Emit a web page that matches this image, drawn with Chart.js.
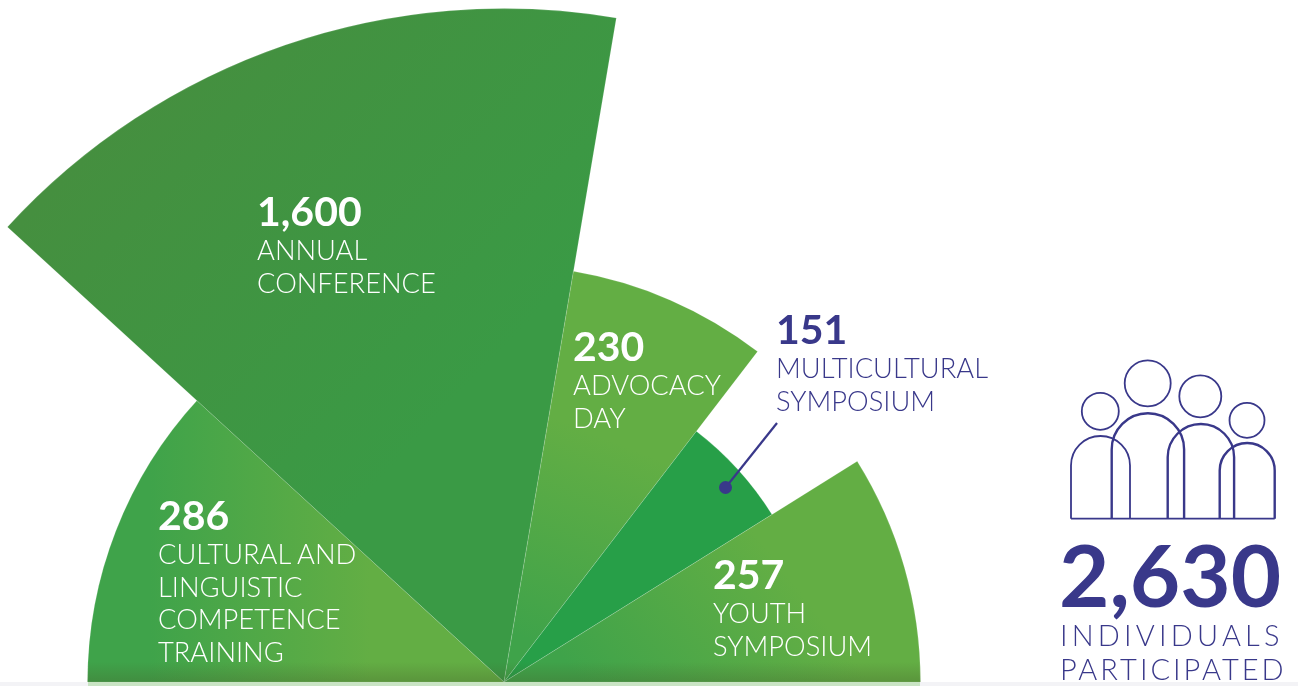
<!DOCTYPE html>
<html><head><meta charset="utf-8">
<script src="https://cdn.jsdelivr.net/npm/chart.js@4/dist/chart.umd.min.js"></script>
<style>
html,body{margin:0;padding:0;background:#fff;overflow:hidden;width:1298px;height:686px}
#wrap{position:relative;width:1298px;height:686px;overflow:hidden;font-family:Lato,sans-serif}
canvas{position:absolute;left:0;top:0}
.lab{position:absolute;white-space:nowrap;color:#fff}
.num{font-weight:700;font-size:41px;line-height:46px}
.txt{font-weight:300;font-size:27.3px;line-height:32.6px}
.navy{color:#39388a}
.big{position:absolute;left:1059px;top:519px;font-weight:700;font-size:87px;line-height:110px;color:#39388a;white-space:nowrap}
.ind{position:absolute;left:1060px;font-weight:300;font-size:29px;line-height:34px;color:#39388a;white-space:nowrap}
svg{position:absolute;left:0;top:0}
</style></head>
<body><div id="wrap"><canvas id="c" width="1298" height="686"></canvas>
<svg width="1298" height="686" fill="none" stroke="#39388a" stroke-width="1.8">
<circle cx="1100.3" cy="411.3" r="18.5"/><circle cx="1147.7" cy="383.3" r="23"/><circle cx="1200.3" cy="396.3" r="21"/><circle cx="1247" cy="420.3" r="17.5"/>
<path d="M1071 518.7V465.5a29.5 29.5 0 0 1 59 0V518.7"/>
<path stroke-width="2.4" d="M1111.7 518.7V449.5a36.2 36.2 0 0 1 72.4 0V518.7"/>
<path stroke-width="2.4" d="M1167.7 518.7V457.2a33.2 33.2 0 0 1 66.4 0V518.7"/>
<path stroke-width="2.4" d="M1219.7 518.7V470.5a27.5 27.5 0 0 1 55 0V518.7"/>
<path d="M1071 518.7H1274.7"/>
</svg>
</div>
<script>
const categories = [["CULTURAL AND","LINGUISTIC","COMPETENCE","TRAINING"],["ANNUAL","CONFERENCE"],["ADVOCACY","DAY"],["MULTICULTURAL","SYMPOSIUM"],["YOUTH","SYMPOSIUM"]];
const values = [286, 1600, 230, 151, 257];
const sweepDegrees = [42.5, 57.1, 27.9, 20.5, 32];
const totalValue = "2,630";
const totalLabel = ["INDIVIDUALS","PARTICIPATED"];
const tierLimits = [200, 1000, Infinity];
const tierRadii = [316, 416.5, 673.5];
const centre = {x:504, y:682};
const labelAnchors = [[158,492],[257,188],[573,323],[776,306],[713,551]];
const fills = [
  [[150,0],[370,0],['#3fa34a','#63ae44']],
  [[60,180],[380,480],['#458f3f','#3a9a45']],
  [[610,440],[530,640],['#63ae44','#3fa34a']],
  [[600,500],[760,500],['#279f48','#279f48']],
  [[760,540],[580,680],['#63ae44','#3fa34a']]
];
class TieredRadial extends Chart.RadialLinearScale {
  static id = 'tieredRadial';
  static defaults = Chart.RadialLinearScale.defaults;
  _pin(){ this.xCenter = centre.x; this.yCenter = centre.y; }
  setDimensions(){ super.setDimensions(); this._pin(); }
  setCenterPoint(a,b,c,d){ super.setCenterPoint(a,b,c,d); this._pin(); }
  getDistanceFromCenterForValue(v){ return tierRadii[tierLimits.findIndex(l => v < l)]; }
}
Chart.register(TieredRadial);
const finish = {
  id:'finish',
  afterDatasetsDraw(chart){
    const g = chart.ctx;
    g.save();
    g.globalCompositeOperation = 'source-atop';
    const sh = g.createLinearGradient(0,662,0,682);
    sh.addColorStop(0,'rgba(70,90,40,0)'); sh.addColorStop(1,'rgba(70,90,40,.3)');
    g.fillStyle = sh; g.fillRect(0,662,1298,20);
    g.globalCompositeOperation = 'source-over';
    g.fillStyle = '#f3f3f6'; g.fillRect(0,682,1298,4);
    g.fillStyle = '#c9e4c4'; g.fillRect(88,682,832,4);
    g.strokeStyle = '#39388a'; g.lineWidth = 2.2;
    g.beginPath(); g.moveTo(726,487); g.lineTo(777,423); g.stroke();
    g.fillStyle = '#39388a';
    g.beginPath(); g.arc(725.5,487.5,6.5,0,Math.PI*2); g.fill();
    g.restore();
  }
};
new Chart(document.getElementById('c'),{
  type:'polarArea',
  data:{labels:categories.map(c=>c.join(' ')),datasets:[{
    data:values,
    angle:ctx=>sweepDegrees[ctx.dataIndex],
    clip:false,
    borderWidth:0.5,
    borderColor:'rgba(255,255,255,.3)',
    backgroundColor:ctx=>{
      const f=fills[ctx.dataIndex];
      if(!f) return '#3fa34a';
      const g=ctx.chart.ctx.createLinearGradient(f[0][0],f[0][1],f[1][0],f[1][1]);
      g.addColorStop(0,f[2][0]);g.addColorStop(1,f[2][1]);return g;
    }
  }]},
  options:{responsive:false,animation:false,
    plugins:{legend:{display:false},tooltip:{enabled:false}},
    scales:{r:{type:'tieredRadial',display:false,startAngle:-90,pointLabels:{display:false},ticks:{display:false},grid:{display:false}}}
  },
  plugins:[finish]
});
const wrap=document.getElementById('wrap');
categories.forEach((lines,i)=>{
  const navy=i===3?' navy':'';
  const d=document.createElement('div');d.className='lab'+navy;
  d.style.left=labelAnchors[i][0]+'px';d.style.top=labelAnchors[i][1]+'px';
  const n=document.createElement('div');n.className='num';n.textContent=values[i].toLocaleString('en-US');d.appendChild(n);
  lines.forEach(t=>{const e=document.createElement('div');e.className='txt';e.textContent=t;d.appendChild(e);});
  wrap.appendChild(d);
});
const b=document.createElement('div');b.className='big';b.textContent=totalValue;wrap.appendChild(b);
totalLabel.forEach((t,i)=>{const e=document.createElement('div');e.className='ind';e.textContent=t;e.style.top=(618+i*34)+'px';e.style.letterSpacing=(i?'3px':'4.2px');wrap.appendChild(e);});
</script></body></html>
